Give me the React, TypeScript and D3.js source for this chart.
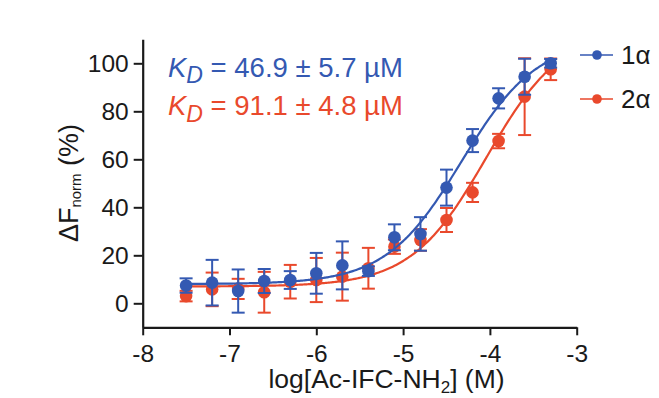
import { useEffect, useRef } from "react";
import * as d3 from "d3";

// log10 of ligand concentration (M)
const logConc = [-7.5, -7.2, -6.9, -6.6, -6.3, -6.0, -5.7, -5.4, -5.1, -4.8, -4.5, -4.2, -3.9, -3.6, -3.3];

// 1α, normalised ΔF (%) and error
const alpha1Mean = [7.4, 8.6, 5.1, 9.3, 9.7, 12.5, 15.8, 13.4, 27.5, 28.9, 48.2, 67.8, 85.4, 94.4, 100];
const alpha1Err = [3, 9.5, 9, 5, 3.7, 8.5, 10, 2, 5.4, 7, 7.5, 4.8, 4.2, 7.5, 1.8];

// 2α
const alpha2Mean = [3.0, 5.8, 6.0, 4.6, 9.0, 9.7, 11.1, 14.6, 23.6, 26.4, 34.7, 46.2, 67.6, 86.1, 97.5];
const alpha2Err = [2.2, 7, 4.2, 8.5, 7, 9.2, 10, 8.5, 3, 4.5, 5, 4, 3, 16, 4.5];

const seriesNames = ["1α", "2α"];
const seriesColors = ["#3459b2", "#e9492c"];

// fit results (µM) shown in the plot
const kdValues = [46.9, 91.1];
const kdErrors = [5.7, 4.8];
const fitBottom = [8, 7];
const fitTop = [110, 114.5];

const xTicks = [-8, -7, -6, -5, -4, -3];
const yTicks = [0, 20, 40, 60, 80, 100];

const FONT = "'Liberation Sans', Arial, Helvetica, sans-serif";

export default function App() {
  const svgRef = useRef<SVGSVGElement>(null);

  useEffect(() => {
    if (!svgRef.current) return;
    const svg = d3.select(svgRef.current);
    svg.selectAll("*").remove();

    const x = d3.scaleLinear().domain([-8, -3]).range([142.7, 576.7]);
    const y = d3.scaleLinear().domain([-10, 110]).range([327.3, 39.3]);
    const ink = "#1a1a1a";

    // axes
    const gx = svg.append("g")
      .attr("transform", `translate(0,${y(-10)})`)
      .call(d3.axisBottom(x).tickValues(xTicks).tickSize(8).tickSizeOuter(0).tickPadding(9)
        .tickFormat((d) => String(d)));
    const gy = svg.append("g")
      .attr("transform", `translate(${x(-8)},0)`)
      .call(d3.axisLeft(y).tickValues(yTicks).tickSize(9).tickSizeOuter(0).tickPadding(5));

    [gx, gy].forEach((g) => {
      g.select(".domain").attr("stroke", ink).attr("stroke-width", 2.2);
      g.selectAll(".tick line").attr("stroke", ink).attr("stroke-width", 2);
      g.selectAll(".tick text").attr("fill", ink).attr("font-family", FONT).attr("font-size", 24.5);
    });

    const means = [alpha1Mean, alpha2Mean];
    const errs = [alpha1Err, alpha2Err];

    // draw 2α first, 1α on top
    [1, 0].forEach((s) => {
      const color = seriesColors[s];
      const g = svg.append("g");

      const fit = (lx: number) => {
        const L = Math.pow(10, lx + 6); // µM
        return fitBottom[s] + (fitTop[s] - fitBottom[s]) * L / (kdValues[s] + L);
      };
      const grid = d3.range(-7.5, -3.3 + 1e-9, 0.02);
      const line = d3.line<number>().x((d) => x(d)).y((d) => y(fit(d))).curve(d3.curveMonotoneX);
      g.append("path")
        .attr("d", line(grid))
        .attr("fill", "none")
        .attr("stroke", color)
        .attr("stroke-width", 2.2);

      const pts = logConc.map((c, i) => ({ c, m: means[s][i], e: errs[s][i] }));
      const bars = g.selectAll(".eb").data(pts).enter().append("g")
        .attr("stroke", color).attr("stroke-width", 2);
      bars.append("line")
        .attr("x1", (d) => x(d.c)).attr("x2", (d) => x(d.c))
        .attr("y1", (d) => y(d.m - d.e)).attr("y2", (d) => y(d.m + d.e));
      bars.append("line")
        .attr("x1", (d) => x(d.c) - 6.5).attr("x2", (d) => x(d.c) + 6.5)
        .attr("y1", (d) => y(d.m + d.e)).attr("y2", (d) => y(d.m + d.e));
      bars.append("line")
        .attr("x1", (d) => x(d.c) - 6.5).attr("x2", (d) => x(d.c) + 6.5)
        .attr("y1", (d) => y(d.m - d.e)).attr("y2", (d) => y(d.m - d.e));

      g.selectAll("circle").data(pts).enter().append("circle")
        .attr("cx", (d) => x(d.c)).attr("cy", (d) => y(d.m))
        .attr("r", 6.3).attr("fill", color);
    });

    // K_D annotations
    const kdY = [76.7, 115];
    seriesNames.forEach((_, s) => {
      const t = svg.append("text")
        .attr("x", 168).attr("y", kdY[s])
        .attr("font-family", FONT).attr("font-size", 27.5)
        .attr("fill", seriesColors[s]);
      t.append("tspan").attr("font-style", "italic").text("K");
      t.append("tspan").attr("font-style", "italic").attr("font-size", 23).attr("dy", 6.5).text("D");
      t.append("tspan").attr("dy", -6.5)
        .text(` = ${kdValues[s].toFixed(1)} ± ${kdErrors[s].toFixed(1)} µM`);
    });

    // legend
    const legY = [55, 99];
    seriesNames.forEach((name, s) => {
      const lg = svg.append("g").attr("transform", `translate(0,${legY[s]})`);
      lg.append("line").attr("x1", 580).attr("x2", 613).attr("y1", 0).attr("y2", 0)
        .attr("stroke", seriesColors[s]).attr("stroke-width", 1.6);
      lg.append("circle").attr("cx", 597).attr("cy", 0).attr("r", 4.8).attr("fill", seriesColors[s]);
      lg.append("text").attr("x", 621).attr("y", 8.5)
        .attr("font-family", FONT).attr("font-size", 26).attr("fill", ink).text(name);
    });

    // y title
    const yt = svg.append("text")
      .attr("transform", "translate(77.5,183) rotate(-90)")
      .attr("text-anchor", "middle")
      .attr("font-family", FONT).attr("font-size", 27).attr("fill", ink);
    yt.append("tspan").text("ΔF");
    yt.append("tspan").attr("font-size", 15).attr("dy", 3).text("norm");
    yt.append("tspan").attr("dy", -3).text(" (%)");

    // x title
    const xt = svg.append("text")
      .attr("x", 386.5).attr("y", 388)
      .attr("text-anchor", "middle")
      .attr("font-family", FONT).attr("font-size", 26.5).attr("fill", ink);
    xt.append("tspan").text("log[Ac-IFC-NH");
    xt.append("tspan").attr("font-size", 17).attr("dy", 5).text("2");
    xt.append("tspan").attr("dy", -5).text("] (M)");
  }, []);

  return (
    <svg
      ref={svgRef}
      width={659}
      height={398}
      style={{ position: "absolute", left: 0, top: 0, background: "#fff", display: "block" }}
    />
  );
}
